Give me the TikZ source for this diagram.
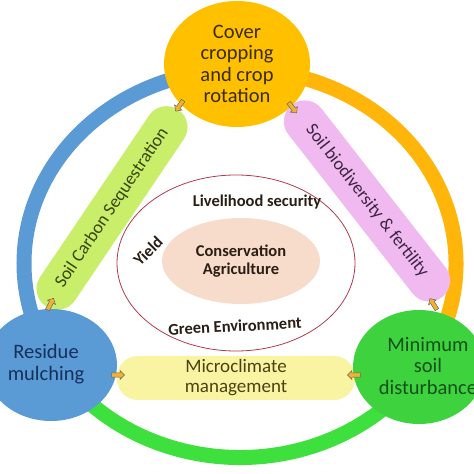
\documentclass[tikz,border=0pt]{standalone}
\usepackage{fontspec}
\setmainfont{Carlito}
\usetikzlibrary{shapes.geometric, shapes.arrows}
\definecolor{ringblue}{HTML}{5B9BD5}
\definecolor{ringorange}{HTML}{FFB50A}
\definecolor{ringgreen}{HTML}{3DE03D}
\definecolor{topfill}{HTML}{FFC000}
\definecolor{leftfill}{HTML}{5B9BD5}
\definecolor{rightfill}{HTML}{3ED33E}
\definecolor{seqfill}{HTML}{C9EE6A}
\definecolor{biofill}{HTML}{F0BAF0}
\definecolor{microfill}{HTML}{F8F4A2}
\definecolor{corefill}{HTML}{F8DCCB}
\definecolor{rimred}{HTML}{B03A4C}
\definecolor{tipfill}{HTML}{F2B22E}
\definecolor{topink}{HTML}{3A2C0C}
\definecolor{leftink}{HTML}{16305A}
\definecolor{rightink}{HTML}{13501A}
\definecolor{seqink}{HTML}{39460F}
\definecolor{bioink}{HTML}{3A2440}
\definecolor{microink}{HTML}{4A4214}
\definecolor{coreink}{HTML}{2A1E14}

\begin{document}
\begin{tikzpicture}
    [
        x=1pt, y=1pt,
        ring/.style={line width=15pt},
        big_node/.style={ellipse, inner sep=0pt},
        big_text/.style={align=center, font=\fontsize{20.5}{21.5}\selectfont},
        band_node/.style={rounded corners=21pt, minimum height=42pt, inner sep=0pt, align=center, font=\fontsize{18}{20}\selectfont},
        tip_node/.style={single arrow, draw=gray!80!black, fill=tipfill, line width=0.5pt, minimum height=13pt, minimum width=9pt, single arrow head extend=2pt, inner sep=1.5pt},
        core_text/.style={font=\bfseries\fontsize{16.5}{17.5}\selectfont, text=coreink},
    ]

  \useasboundingbox (0,0) rectangle (474,474);
  \clip (0,0) rectangle (474,474);

  % outer ring
  \coordinate (ringc) at (240,210.5);
  \draw[ring, ringblue] (ringc) ++(90:216 and 194) arc[start angle=90, end angle=211, x radius=216, y radius=194];
  \draw[ring, ringgreen] (ringc) ++(211:216 and 194) arc[start angle=211, end angle=329, x radius=216, y radius=194];
  \draw[ring, ringorange] (ringc) ++(329:216 and 194) arc[start angle=329, end angle=450, x radius=216, y radius=194];

  % centre
  \node[ellipse, draw=rimred, line width=0.8pt, minimum width=238pt, minimum height=176pt] (rim) at (236,211) {};
  \node[ellipse, fill=corefill, minimum width=158pt, minimum height=86pt, core_text, align=center] (core) at (241,213) {Conservation\\Agriculture};
  \node[core_text] (liv) at (257,272) {Livelihood security};
  \node[core_text, rotate=45] (yield) at (148,223) {Yield};
  \node[core_text, rotate=3] (green) at (235,148) {Green Environment};

  % bands
  \node[band_node, fill=seqfill, minimum width=237pt, rotate=56, text=seqink] (seq) at (112,266) {Soil Carbon Sequestration};
  \node[band_node, fill=biofill, minimum width=244pt, rotate=-52, text=bioink] (bio) at (367,273) {Soil biodiversity \& fertility};
  \node[band_node, fill=microfill, minimum width=238pt, minimum height=44pt, text=microink, font=\fontsize{19}{20}\selectfont] (micro) at (236,96) {Microclimate\\management};

  % practices
  \node[big_node, fill=topfill, minimum width=146pt, minimum height=126pt] (cover) at (237,410) {};
  \node[big_node, fill=leftfill, minimum width=132pt, minimum height=112pt] (residue) at (51,109) {};
  \node[big_node, fill=rightfill, minimum width=132pt, minimum height=114pt] (tillage) at (419,107) {};
  \node[big_text, text=topink] (cover_txt) at (237,410) {Cover\\cropping\\and crop\\rotation};
  \node[big_text, text=leftink] (residue_txt) at (46,110) {Residue\\mulching};
  \node[big_text, text=rightink] (tillage_txt) at (428,108) {Minimum\\soil\\disturbance};

  % small arrows
  \node[tip_node, rotate=235] (t1) at (180,369) {};
  \node[tip_node, rotate=-52] (t2) at (292,367) {};
  \node[tip_node, rotate=62] (t3) at (50,169) {};
  \node[tip_node, rotate=122] (t4) at (434,169) {};
  \node[tip_node] (t5) at (117,99) {};
  \node[tip_node, rotate=180] (t6) at (355,99) {};
\end{tikzpicture}
\end{document}
